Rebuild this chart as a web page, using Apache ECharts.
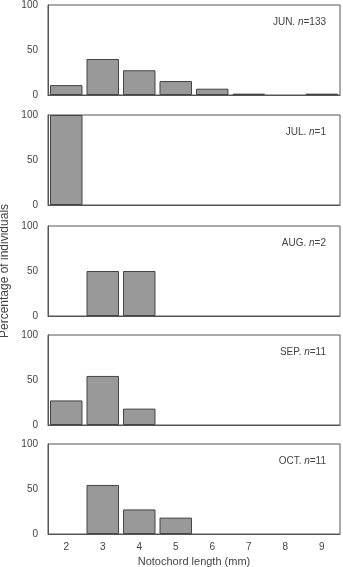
<!DOCTYPE html>
<html>
<head>
<meta charset="UTF-8" />
<title>Notochord length by month</title>
<script src="https://cdn.jsdelivr.net/npm/echarts@6/dist/echarts.min.js"></script>
<style>
html, body { margin: 0; padding: 0; background: #fff; }
#chart { width: 343px; height: 567px; }
</style>
</head>
<body>
<div id="chart"></div>
<script>
// categories (notochord length, mm)
var lengths = ["2", "3", "4", "5", "6", "7", "8", "9"];

// percentage of individuals per month
var months = ["JUN.", "JUL.", "AUG.", "SEP.", "OCT."];
var counts = ["133", "1", "2", "11", "11"];
var jun = [11, 40, 27.5, 15.5, 7, 1.5, 0, 1.5];
var jul = [100, 0, 0, 0, 0, 0, 0, 0];
var aug = [0, 50, 50, 0, 0, 0, 0, 0];
var sep = [27.3, 54.5, 18.2, 0, 0, 0, 0, 0];
var oct = [0, 54.5, 27.3, 18.2, 0, 0, 0, 0];
var yTicks = [0, 50, 100];

var panels = [jun, jul, aug, sep, oct];
var tops = [5, 115, 226, 335, 444];

var myChart = echarts.init(document.getElementById("chart"));

var font = "'Liberation Sans', Arial, sans-serif";
var grids = [], xAxes = [], yAxes = [], series = [], titles = [];

panels.forEach(function (vals, i) {
  var last = i === panels.length - 1;
  grids.push({
    left: 48, width: 292, top: tops[i], height: 90,
    outerBoundsMode: "none", containLabel: false,
    show: true, borderColor: "#555", borderWidth: 1
  });
  xAxes.push({
    type: "category", gridIndex: i, data: lengths,
    axisLine: { lineStyle: { color: "#555" } },
    axisTick: { inside: true, length: 3, lineStyle: { color: "#555" } },
    axisLabel: { show: last, color: "#444", fontSize: 10, fontFamily: font, margin: 8 },
    name: last ? "Notochord length (mm)" : "",
    nameLocation: "middle", nameGap: 22,
    nameTextStyle: { color: "#444", fontSize: 11, fontFamily: font }
  });
  yAxes.push({
    type: "value", gridIndex: i, min: yTicks[0], max: yTicks[2], interval: 50,
    splitLine: { show: false },
    axisLine: { show: true, lineStyle: { color: "#555" } },
    axisTick: { inside: true, length: 3, lineStyle: { color: "#555" } },
    axisLabel: { color: "#444", fontSize: 10, fontFamily: font, margin: 10 },
    name: i === 2 ? "Percentage of individuals" : "",
    nameLocation: "middle", nameGap: 32,
    nameTextStyle: { color: "#444", fontSize: 12, fontFamily: font }
  });
  series.push({
    type: "bar", xAxisIndex: i, yAxisIndex: i,
    data: vals.map(function (v) { return v > 0 ? v : "-"; }),
    barCategoryGap: "11%",
    itemStyle: { color: "#999", borderColor: "#444", borderWidth: 1 },
    silent: true
  });
  titles.push({
    text: "{a|" + months[i] + " }{i|n}{a|=" + counts[i] + "}",
    right: 12, top: tops[i] + 7,
    textStyle: {
      fontWeight: "normal",
      rich: {
        a: { fontSize: 10, color: "#444", fontFamily: font, fontWeight: "normal" },
        i: { fontSize: 10, color: "#444", fontFamily: font, fontWeight: "normal", fontStyle: "italic" }
      }
    }
  });
});

var option = {
  animation: false,
  backgroundColor: "#fff",
  title: titles,
  grid: grids,
  xAxis: xAxes,
  yAxis: yAxes,
  series: series
};

myChart.setOption(option);
</script>
</body>
</html>
